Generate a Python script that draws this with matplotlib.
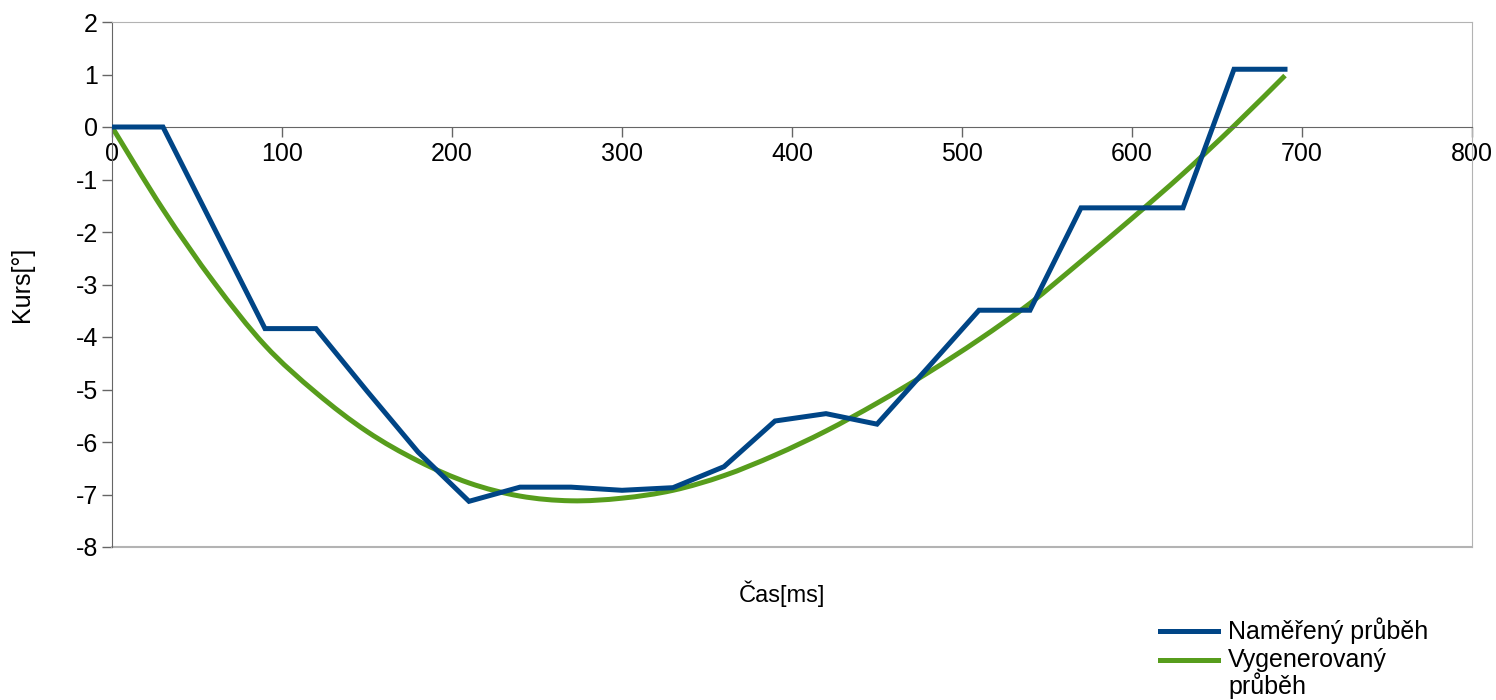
import matplotlib
matplotlib.use("Agg")
import matplotlib.pyplot as plt
from matplotlib.lines import Line2D
from matplotlib.path import Path
from matplotlib.patches import PathPatch

plt.rcParams["font.family"] = ["Liberation Sans", "DejaVu Sans"]
plt.rcParams["axes.unicode_minus"] = False

# time axis in ms, one sample every 30 ms
cas = [0, 30, 60, 90, 120, 150, 180, 210, 240, 270, 300, 330,
       360, 390, 420, 450, 480, 510, 540, 570, 600, 630, 660, 690]

namereny = [0.0, 0.0, -1.92, -3.84, -3.84, -5.03, -6.19, -7.13,
            -6.86, -6.86, -6.92, -6.87, -6.47, -5.60, -5.46, -5.66,
            -4.58, -3.49, -3.49, -1.54, -1.54, -1.54, 1.10, 1.10]

vygenerovany = [0.0, -1.57, -2.96, -4.16, -5.06, -5.80, -6.36, -6.78,
                -7.03, -7.12, -7.07, -6.92, -6.64, -6.25, -5.79, -5.26,
                -4.68, -4.05, -3.36, -2.56, -1.74, -0.89, 0.02, 0.98]

x_ticks = [0, 100, 200, 300, 400, 500, 600, 700, 800]
y_ticks = [2, 1, 0, -1, -2, -3, -4, -5, -6, -7, -8]

BLUE = "#004586"
GREEN = "#579d1c"


def smooth_path(xs, ys):
    # cubic bezier through every point (catmull-rom style tangents)
    pts = list(zip(xs, ys))
    verts = [pts[0]]
    codes = [Path.MOVETO]
    n = len(pts)
    for i in range(n - 1):
        p0 = pts[max(i - 1, 0)]
        p1 = pts[i]
        p2 = pts[i + 1]
        p3 = pts[min(i + 2, n - 1)]
        c1 = (p1[0] + (p2[0] - p0[0]) / 6, p1[1] + (p2[1] - p0[1]) / 6)
        c2 = (p2[0] - (p3[0] - p1[0]) / 6, p2[1] - (p3[1] - p1[1]) / 6)
        verts += [c1, c2, p2]
        codes += [Path.CURVE4] * 3
    return Path(verts, codes)


fig = plt.figure(figsize=(14.96, 7.0), dpi=100)
ax = fig.add_axes([112 / 1496, 1 - 547 / 700, 1360 / 1496, 525 / 700])

ax.plot(cas, namereny, color=BLUE, lw=3.6, solid_joinstyle="miter", zorder=3)
ax.add_patch(PathPatch(smooth_path(cas, vygenerovany), fill=False,
                       edgecolor=GREEN, lw=3.6, zorder=2))

ax.set_xlim(0, 800)
ax.set_ylim(-8, 2)
ax.set_xticks(x_ticks)
ax.set_yticks(y_ticks)
ax.tick_params(labelsize=18, length=7, width=1, color="#666666")
ax.tick_params(axis="x", direction="out", pad=4)
ax.tick_params(axis="y", direction="out", pad=3)

# x axis crosses at zero, wall border stays around the plot
ax.spines["bottom"].set_position(("data", 0))
for s in ("bottom", "left"):
    ax.spines[s].set_color("#666666")
for s in ("top", "right"):
    ax.spines[s].set_color("#b3b3b3")
ax.axhline(-8, color="#b3b3b3", lw=1.5, clip_on=False)

fig.text(22 / 1496, 1 - 284 / 700, "Kurs[°]", rotation=90,
         ha="center", va="center", fontsize=18)
fig.text(782 / 1496, 1 - 594 / 700, "Čas[ms]",
         ha="center", va="center", fontsize=17)

# legend below the plot, bottom right
for y_px, col in ((631, BLUE), (660, GREEN)):
    fig.add_artist(Line2D([1160 / 1496, 1218 / 1496],
                          [1 - y_px / 700, 1 - y_px / 700],
                          color=col, lw=3.6, transform=fig.transFigure))
fig.text(1228 / 1496, 1 - 631 / 700, "Naměřený průběh",
         ha="left", va="center", fontsize=18)
fig.text(1228 / 1496, 1 - 660 / 700, "Vygenerovaný",
         ha="left", va="center", fontsize=18)
fig.text(1228 / 1496, 1 - 686 / 700, "průběh",
         ha="left", va="center", fontsize=18)

fig.savefig("out.png", dpi=100)
